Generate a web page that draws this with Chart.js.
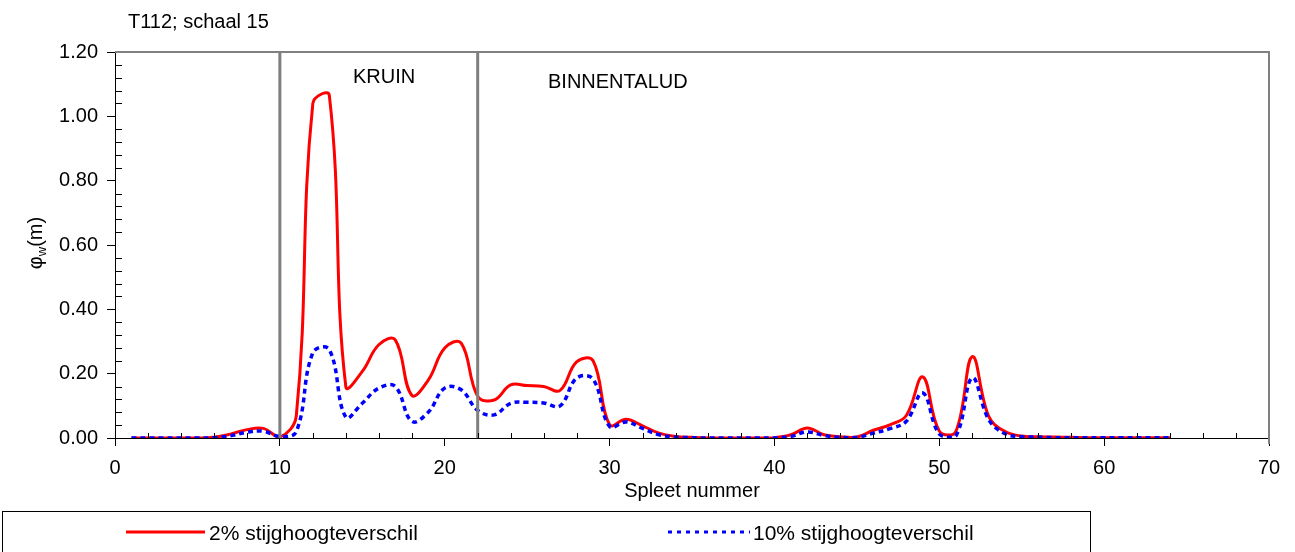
<!DOCTYPE html>
<html>
<head>
<meta charset="utf-8">
<title>T112; schaal 15</title>
<script src="https://cdn.jsdelivr.net/npm/chart.js@4.4.1/dist/chart.umd.min.js"></script>
<style>
  html, body { margin: 0; padding: 0; background: #fff; }
  canvas { display: block; }
</style>
</head>
<body>
<canvas id="cSpleet" width="1295" height="552"></canvas>
<script>
/* stijghoogteverschil per spleet, T112 schaal 15 */

var spleet = [1, 2, 3, 4, 5, 6, 7, 8, 9, 10,
  11, 12, 13, 14, 15, 16, 17, 18, 19, 20,
  21, 22, 23, 24, 25, 26, 27, 28, 29, 30,
  31, 32, 33, 34, 35, 36, 37, 38, 39, 40,
  41, 42, 43, 44, 45, 46, 47, 48, 49, 50,
  51, 52, 53, 54, 55, 56, 57, 58, 59, 60,
  61, 62, 63, 64];

// 2% stijghoogteverschil
var phi2 = [0, 0, 0, 0, 0, 0.002, 0.012, 0.026, 0.030, 0.003,
  0.070, 1.040, 1.065, 0.160, 0.207, 0.290, 0.305, 0.133, 0.180, 0.280,
  0.295, 0.130, 0.118, 0.165, 0.163, 0.160, 0.148, 0.237, 0.240, 0.041,
  0.058, 0.038, 0.015, 0.005, 0.002, 0, 0, 0, 0, 0.001,
  0.010, 0.031, 0.010, 0.004, 0.003, 0.024, 0.041, 0.070, 0.190, 0.022,
  0.020, 0.253, 0.067, 0.020, 0.006, 0.004, 0.003, 0.002, 0.001, 0.001,
  0.001, 0.001, 0.001, 0.001];

// 10% stijghoogteverschil
var phi10 = [0, 0, 0, 0, 0, 0.001, 0.007, 0.018, 0.021, 0.005,
  0.020, 0.265, 0.275, 0.065, 0.108, 0.155, 0.160, 0.052, 0.080, 0.155,
  0.150, 0.086, 0.072, 0.108, 0.111, 0.109, 0.100, 0.186, 0.183, 0.036,
  0.050, 0.030, 0.010, 0.003, 0.001, 0, 0, 0, 0, 0,
  0.005, 0.019, 0.008, 0.002, 0.002, 0.015, 0.029, 0.052, 0.140, 0.012,
  0.006, 0.187, 0.057, 0.013, 0.004, 0.003, 0.001, 0.001, 0.001, 0.001,
  0.001, 0.001, 0.001, 0.001];

// grenzen kruin / binnentalud
var grenzen = [10, 22];
var yMax = 1.2;

var FONT = "'Liberation Sans', Arial, sans-serif";

function toPoints(xs, ys) {
  return xs.map(function(x, i) { return { x: x, y: ys[i] }; });
}

function grensLijn(x) {
  return {
    data: [{ x: x, y: 0 }, { x: x, y: yMax }],
    borderColor: "#7f7f7f",
    borderWidth: 3,
    pointRadius: 0,
    tension: 0,
    order: 0
  };
}

var decor = {
  id: "decor",
  afterDraw: function(ch) {
    var c = ch.ctx, sx = ch.scales.x, sy = ch.scales.y, a = ch.chartArea;
    c.save();

    // kader boven en rechts
    c.strokeStyle = "#808080";
    c.lineWidth = 2;
    c.beginPath();
    c.moveTo(a.left, a.top);
    c.lineTo(a.right, a.top);
    c.lineTo(a.right, a.bottom + 6);
    c.stroke();

    // kleine streepjes naar binnen
    c.strokeStyle = "#000";
    c.lineWidth = 1;
    c.beginPath();
    for (var v = 2; v < 70; v += 2) {
      if (v % 10 === 0) continue;
      var px = Math.round(sx.getPixelForValue(v)) + 0.5;
      c.moveTo(px, a.bottom);
      c.lineTo(px, a.bottom - 5);
    }
    for (var k = 1; k < 30; k++) {
      if (k % 5 === 0) continue;
      var py = Math.round(sy.getPixelForValue(k * 0.04)) + 0.5;
      c.moveTo(a.left, py);
      c.lineTo(a.left + 7, py);
    }
    c.stroke();

    c.fillStyle = "#000";
    c.textBaseline = "alphabetic";
    c.textAlign = "left";
    c.font = "20px " + FONT;
    c.fillText("T112; schaal 15", 128, 28);
    c.fillText("KRUIN", 353, 83);
    c.fillText("BINNENTALUD", 548, 88);

    c.textAlign = "center";
    c.fillText("Spleet nummer", (a.left + a.right) / 2, 497);

    // y-as titel met subscript
    c.save();
    c.translate(42, 243);
    c.rotate(-Math.PI / 2);
    c.textAlign = "left";
    c.font = "20px " + FONT;
    var w1 = c.measureText("\u03c6").width;
    c.font = "13px " + FONT;
    var w2 = c.measureText("w").width;
    c.font = "20px " + FONT;
    var w3 = c.measureText("(m)").width;
    var x0 = -(w1 + w2 + w3) / 2;
    c.fillText("\u03c6", x0, 0);
    c.font = "13px " + FONT;
    c.fillText("w", x0 + w1, 4);
    c.font = "20px " + FONT;
    c.fillText("(m)", x0 + w1 + w2, 0);
    c.restore();

    // legenda
    c.strokeStyle = "#000";
    c.lineWidth = 1;
    c.strokeRect(2.5, 511.5, 1088, 60);

    c.lineWidth = 3;
    c.strokeStyle = "#ff0000";
    c.beginPath();
    c.moveTo(126, 532);
    c.lineTo(205, 532);
    c.stroke();

    c.strokeStyle = "#0000ff";
    c.setLineDash([4, 5]);
    c.beginPath();
    c.moveTo(668, 532);
    c.lineTo(750, 532);
    c.stroke();
    c.setLineDash([]);

    c.fillStyle = "#000";
    c.textAlign = "left";
    c.font = "21px " + FONT;
    c.fillText("2% stijghoogteverschil", 209, 540);
    c.fillText("10% stijghoogteverschil", 753, 540);

    c.restore();
  }
};

var ctx = document.getElementById("cSpleet");

var chart = new Chart(ctx, {
  type: "line",
  data: {
    datasets: [
      grensLijn(grenzen[0]),
      grensLijn(grenzen[1]),
      {
        label: "10% stijghoogteverschil",
        data: toPoints(spleet, phi10),
        borderColor: "#0000ff",
        borderWidth: 3.5,
        borderDash: [5, 4],
        pointRadius: 0,
        tension: 0.4,
        order: 1
      },
      {
        label: "2% stijghoogteverschil",
        data: toPoints(spleet, phi2),
        borderColor: "#ff0000",
        borderWidth: 3,
        pointRadius: 0,
        tension: 0.4,
        order: 2
      }
    ]
  },
  options: {
    responsive: false,
    animation: false,
    devicePixelRatio: 1,
    layout: { padding: { left: 0, top: 52, right: 26, bottom: 0 } },
    scales: {
      x: {
        type: "linear",
        min: 0,
        max: 70,
        ticks: {
          stepSize: 10,
          color: "#000",
          padding: 10,
          maxRotation: 0,
          font: { size: 20, family: FONT }
        },
        grid: { drawOnChartArea: false, tickLength: 8, color: "#000" },
        border: { color: "#000", width: 1 },
        afterFit: function(s) { s.height = 114; }
      },
      y: {
        min: 0,
        max: yMax,
        ticks: {
          stepSize: 0.2,
          color: "#000",
          padding: 9,
          font: { size: 20, family: FONT },
          callback: function(v) { return v.toFixed(2); }
        },
        grid: { drawOnChartArea: false, tickLength: 8, color: "#000" },
        border: { color: "#000", width: 1 },
        afterFit: function(s) { s.width = 115; }
      }
    },
    plugins: {
      legend: { display: false },
      tooltip: { enabled: false }
    }
  },
  plugins: [decor]
});
</script>
</body>
</html>
